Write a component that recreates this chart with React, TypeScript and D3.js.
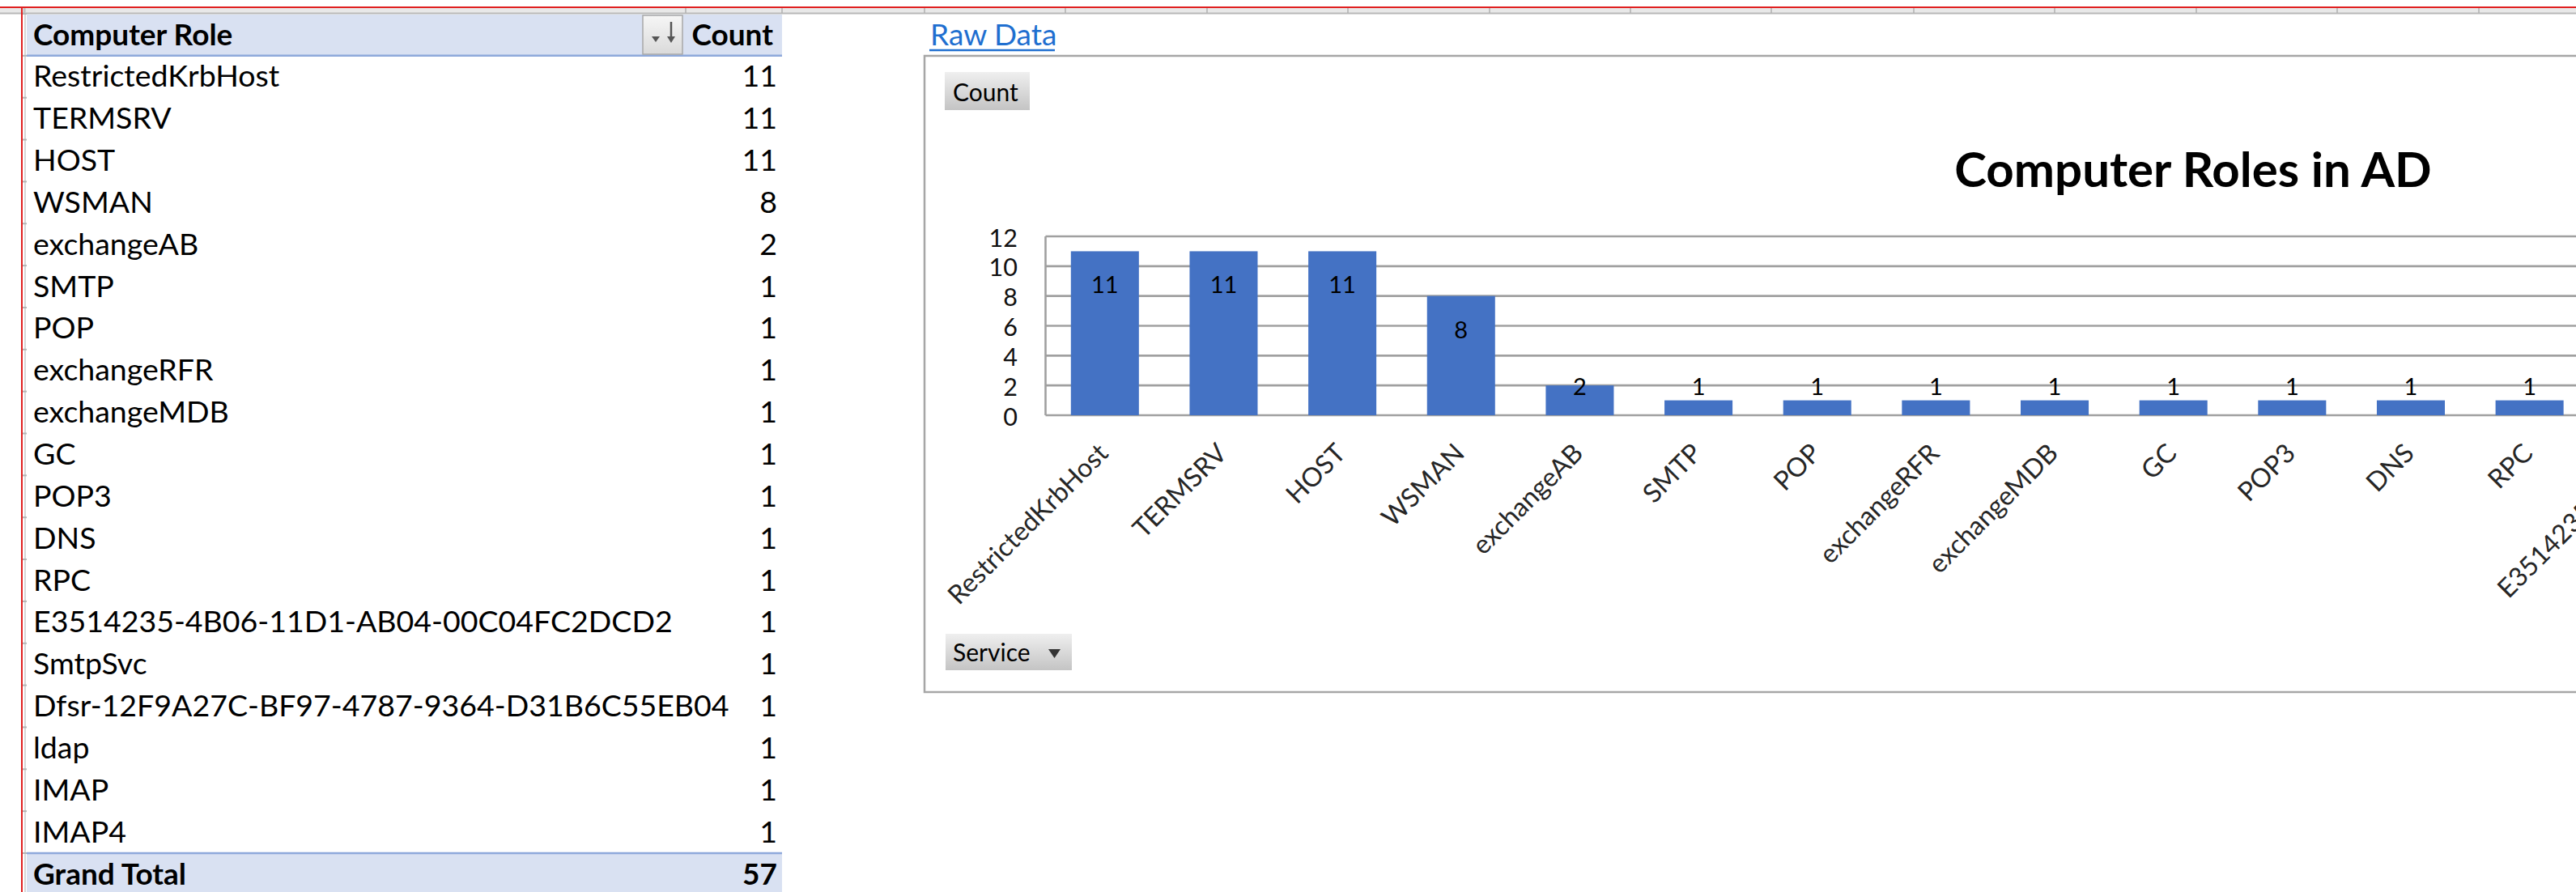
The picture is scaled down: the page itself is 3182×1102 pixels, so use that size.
import * as d3 from "d3";

const categories = [
  "RestrictedKrbHost",
  "TERMSRV",
  "HOST",
  "WSMAN",
  "exchangeAB",
  "SMTP",
  "POP",
  "exchangeRFR",
  "exchangeMDB",
  "GC",
  "POP3",
  "DNS",
  "RPC",
  "E3514235-4B06-11D1-AB04-00C04FC2DCD2",
  "SmtpSvc",
  "Dfsr-12F9A27C-BF97-4787-9364-D31B6C55EB04",
  "ldap",
  "IMAP",
  "IMAP4",
];
const counts = [11, 11, 11, 8, 2, 1, 1, 1, 1, 1, 1, 1, 1, 1, 1, 1, 1, 1, 1];
const yTicks = [0, 2, 4, 6, 8, 10, 12];

const W = 3182;
const H = 1102;
const FONT = "Lato, 'Open Sans', sans-serif";

// sheet layout
const tableLeft = 33;
const tableRight = 966;
const rowTop = 17;
const rowH = 51.85;
const colEdges = [30, 847, 966, 1142, 1316, 1491, 1665, 1840, 2014, 2188, 2364, 2538, 2713, 2887, 3062];

// chart layout
const box = { x: 1142, y: 69, bottom: 855 };
const plot = { left: 1291.5, top: 292, bottom: 513, step: 146.65 };

// long category names wrap at hyphens, like Excel does
function wrapLabel(s: string, max = 15): string[] {
  const parts = s.split(/(?<=-)/);
  const lines: string[] = [];
  let cur = "";
  parts.forEach((p) => {
    if (cur && (cur + p).length > max) {
      lines.push(cur);
      cur = p;
    } else cur += p;
  });
  if (cur) lines.push(cur);
  return lines;
}

export default function App() {
  const x = d3
    .scaleBand()
    .domain(categories)
    .range([plot.left, plot.left + categories.length * plot.step])
    .paddingInner(0.427)
    .paddingOuter(0.2135);
  const y = d3.scaleLinear().domain([0, 12]).range([plot.bottom, plot.top]);
  const total = d3.sum(counts);

  const rowBase = (i: number) => rowTop + i * rowH + 38.5;

  return (
    <svg
      width={W}
      height={H}
      style={{ position: "absolute", left: 0, top: 0, background: "#fff" }}
      fontFamily={FONT}
    >
      <defs>
        <linearGradient id="btn" x1="0" y1="0" x2="0" y2="1">
          <stop offset="0" stopColor="#efefef" />
          <stop offset="1" stopColor="#c4c4c4" />
        </linearGradient>
        <linearGradient id="sortBtn" x1="0" y1="0" x2="0" y2="1">
          <stop offset="0" stopColor="#f6f6f6" />
          <stop offset="1" stopColor="#dadada" />
        </linearGradient>
      </defs>
      <rect width={W} height={H} fill="#fff" />

      {/* sheet frame */}
      <rect x={0} y={10} width={W} height={6} fill="#e8e8e8" />
      <line x1={0} x2={W} y1={16.5} y2={16.5} stroke="#b8b8b8" strokeWidth={2} />
      {colEdges.map((cx) => (
        <line key={cx} x1={cx} x2={cx} y1={10} y2={16} stroke="#b0b0b0" strokeWidth={1.5} />
      ))}
      <line x1={31} x2={31} y1={10} y2={H} stroke="#c8c8c8" strokeWidth={1.5} />
      {d3.range(22).map((i) => (
        <line
          key={i}
          x1={27}
          x2={33}
          y1={rowTop + i * rowH}
          y2={rowTop + i * rowH}
          stroke="#b5b5b5"
          strokeWidth={2}
        />
      ))}
      <line x1={0} x2={W} y1={9} y2={9} stroke="#e02020" strokeWidth={2} />
      <line x1={27} x2={27} y1={9} y2={H} stroke="#e02020" strokeWidth={2} />

      {/* pivot table */}
      <rect x={tableLeft} y={rowTop + 1} width={tableRight - tableLeft} height={rowH - 1} fill="#d9e1f2" />
      <line x1={tableLeft} x2={tableRight} y1={rowTop + rowH} y2={rowTop + rowH} stroke="#8ea9db" strokeWidth={2.5} />
      <text x={41} y={rowBase(0)} fontSize={37} fontWeight="bold" fill="#000">
        Computer Role
      </text>
      <rect x={794} y={19} width={49} height={48} fill="url(#sortBtn)" stroke="#a8a8a8" strokeWidth={1.5} />
      <path d="M805,45 L815,45 L810,52 Z" fill="#555" />
      <line x1={829} x2={829} y1={27} y2={50} stroke="#555" strokeWidth={2.5} />
      <path d="M824,45 L834,45 L829,53 Z" fill="#555" />
      <text x={955} y={rowBase(0)} fontSize={37} fontWeight="bold" textAnchor="end" fill="#000">
        Count
      </text>

      {categories.map((c, i) => (
        <g key={c}>
          <text x={41} y={rowBase(i + 1)} fontSize={37.5} fill="#000">
            {c}
          </text>
          <text x={960} y={rowBase(i + 1)} fontSize={37.5} textAnchor="end" fill="#000">
            {counts[i]}
          </text>
        </g>
      ))}

      <rect
        x={tableLeft}
        y={rowTop + 20 * rowH}
        width={tableRight - tableLeft}
        height={rowH}
        fill="#d9e1f2"
      />
      <line
        x1={tableLeft}
        x2={tableRight}
        y1={rowTop + 20 * rowH}
        y2={rowTop + 20 * rowH}
        stroke="#8ea9db"
        strokeWidth={2.5}
      />
      <text x={41} y={rowBase(20)} fontSize={37} fontWeight="bold" fill="#000">
        Grand Total
      </text>
      <text x={960} y={rowBase(20)} fontSize={37} fontWeight="bold" textAnchor="end" fill="#000">
        {total}
      </text>

      {/* hyperlink */}
      <text x={1149} y={56} fontSize={37} fill="#1f6fd0">
        Raw Data
      </text>
      <line x1={1148} x2={1303} y1={62} y2={62} stroke="#1f6fd0" strokeWidth={2.5} />

      {/* chart area */}
      <rect
        x={box.x}
        y={box.y}
        width={W - box.x + 20}
        height={box.bottom - box.y}
        fill="#fff"
        stroke="#a6a6a6"
        strokeWidth={2.5}
      />
      <rect x={1167} y={89} width={105} height={47} fill="url(#btn)" />
      <text x={1177} y={125} fontSize={30} fill="#000">
        Count
      </text>
      <rect x={1168} y={783} width={156} height={45} fill="url(#btn)" />
      <text x={1177} y={817} fontSize={30} fill="#000">
        Service
      </text>
      <path d="M1295,802 L1310,802 L1302.5,813 Z" fill="#333" />

      <text x={2709} y={231} fontSize={60} fontWeight="bold" textAnchor="middle" fill="#000">
        Computer Roles in AD
      </text>

      {/* gridlines & plot border */}
      {yTicks.map((t) => (
        <line key={t} x1={plot.left} x2={W} y1={y(t)} y2={y(t)} stroke="#a0a0a0" strokeWidth={2.6} />
      ))}
      <line x1={plot.left} x2={plot.left} y1={plot.top} y2={plot.bottom} stroke="#a0a0a0" strokeWidth={2.6} />
      {yTicks.map((t) => (
        <text key={t} x={1257} y={y(t) + 12.5} fontSize={30.5} textAnchor="end" fill="#111">
          {t}
        </text>
      ))}

      {/* bars */}
      {categories.map((c, i) => (
        <rect
          key={c}
          x={x(c)}
          y={y(counts[i])}
          width={x.bandwidth()}
          height={y(0) - y(counts[i])}
          fill="#4472c4"
        />
      ))}
      {categories.map((c, i) => (
        <text
          key={c}
          x={(x(c) as number) + x.bandwidth() / 2}
          y={Math.min(y(counts[i]) + 41.5, y(0) - 36) + 10.5}
          fontSize={29}
          textAnchor="middle"
          fill="#000"
        >
          {counts[i]}
        </text>
      ))}

      {/* category labels */}
      {categories.map((c) => {
        const bx = (x(c) as number) + x.bandwidth() / 2 + 6;
        return (
          <g key={c} transform={`translate(${bx},562) rotate(-45)`}>
            {wrapLabel(c).map((ln, k) => (
              <text key={k} x={0} y={k * 90} fontSize={32.5} textAnchor="end" fill="#262626">
                {ln}
              </text>
            ))}
          </g>
        );
      })}
    </svg>
  );
}
